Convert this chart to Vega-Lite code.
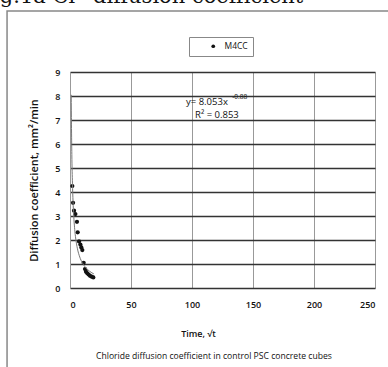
{
  "$schema": "https://vega.github.io/schema/vega-lite/v6.json",
  "width": 305,
  "height": 216,
  "autosize": "none",
  "padding": {"left": 70, "top": 72, "right": 13, "bottom": 79},
  "background": "white",
  "datasets": {
    "obs": [
      {"t": 1.9, "d": 4.25, "series": "M4CC"},
      {"t": 2.5, "d": 3.55, "series": "M4CC"},
      {"t": 3.3, "d": 3.22, "series": "M4CC"},
      {"t": 4.4, "d": 3.08, "series": "M4CC"},
      {"t": 5.7, "d": 2.76, "series": "M4CC"},
      {"t": 6.3, "d": 2.32, "series": "M4CC"},
      {"t": 7.4, "d": 1.94, "series": "M4CC"},
      {"t": 8.5, "d": 1.81, "series": "M4CC"},
      {"t": 9.3, "d": 1.69, "series": "M4CC"},
      {"t": 10.1, "d": 1.58, "series": "M4CC"},
      {"t": 11.2, "d": 1.05, "series": "M4CC"},
      {"t": 12.3, "d": 0.79, "series": "M4CC"},
      {"t": 13.1, "d": 0.68, "series": "M4CC"},
      {"t": 14.2, "d": 0.61, "series": "M4CC"},
      {"t": 15.3, "d": 0.56, "series": "M4CC"},
      {"t": 16.4, "d": 0.51, "series": "M4CC"},
      {"t": 17.8, "d": 0.47, "series": "M4CC"},
      {"t": 19.1, "d": 0.44, "series": "M4CC"}
    ],
    "trend": [
      {"t": 1.0, "d": 8.05},
      {"t": 1.2, "d": 6.83},
      {"t": 1.5, "d": 5.56},
      {"t": 2.0, "d": 4.37},
      {"t": 2.5, "d": 3.60},
      {"t": 3.0, "d": 3.06},
      {"t": 4.0, "d": 2.37},
      {"t": 5.0, "d": 1.95},
      {"t": 6.0, "d": 1.66},
      {"t": 8.0, "d": 1.29},
      {"t": 10.0, "d": 1.06},
      {"t": 12.0, "d": 0.905},
      {"t": 14.0, "d": 0.79},
      {"t": 16.0, "d": 0.70},
      {"t": 18.0, "d": 0.63},
      {"t": 19.5, "d": 0.59}
    ],
    "one": [{}]
  },
  "config": {
    "view": {"stroke": null},
    "axis": {
      "labelFont": "Open Sans",
      "titleFont": "Open Sans",
      "labelFontWeight": 600,
      "labelFontSize": 9,
      "labelColor": "#111",
      "titleColor": "#111",
      "titleFontSize": 9,
      "titleFontWeight": 600,
      "ticks": false,
      "labelOverlap": false
    },
    "axisY": {"titleFontSize": 11}
  },
  "layer": [
    {
      "data": {"name": "obs"},
      "mark": {"type": "point", "filled": true, "size": 18, "opacity": 1},
      "encoding": {
        "x": {
          "field": "t", "type": "quantitative",
          "scale": {"domain": [0, 250], "nice": false},
          "axis": {"values": [0, 50, 100, 150, 200, 250], "title": "Time, √t", "titleX": 128, "titlePadding": 20, "labelPadding": 12, "grid": true, "gridColor": "#999", "gridWidth": 1, "domain": false}
        },
        "y": {
          "field": "d", "type": "quantitative",
          "scale": {"domain": [0, 9], "nice": false},
          "axis": {"values": [0, 1, 2, 3, 4, 5, 6, 7, 8, 9], "title": "Diffusion coefficient, mm²/min", "titlePadding": 15, "labelPadding": 10, "grid": true, "gridColor": "#333", "gridWidth": 1.4, "domainColor": "#999"}
        },
        "color": {
          "field": "series", "type": "nominal",
          "scale": {"range": ["#111"]},
          "legend": {
            "title": null,
            "orient": "none",
            "legendX": 119,
            "legendY": -35,
            "strokeColor": "#888",
            "padding": 5,
            "symbolType": "circle",
            "symbolSize": 14,
            "symbolOffset": 15,
            "labelOffset": 7,
            "labelFont": "Open Sans",
            "labelFontSize": 8.5,
            "labelColor": "#111",
            "fillColor": "white"
          }
        }
      }
    },
    {
      "data": {"name": "trend"},
      "mark": {"type": "line", "color": "#777", "strokeWidth": 1, "interpolate": "monotone"},
      "encoding": {
        "x": {"field": "t", "type": "quantitative", "scale": {"domain": [0, 250], "nice": false},
          "axis": {"values": [0, 50, 100, 150, 200, 250], "title": "Time, √t", "titleX": 128, "titlePadding": 20, "labelPadding": 12, "grid": true, "gridColor": "#999", "gridWidth": 1, "domain": false}},
        "y": {"field": "d", "type": "quantitative", "scale": {"domain": [0, 9], "nice": false},
          "axis": {"values": [0, 1, 2, 3, 4, 5, 6, 7, 8, 9], "title": "Diffusion coefficient, mm²/min", "titlePadding": 15, "labelPadding": 10, "grid": true, "gridColor": "#333", "gridWidth": 1.4, "domainColor": "#999"}}
      }
    },
    {
      "data": {"name": "one"},
      "mark": {"type": "rect", "fill": null, "stroke": "#888", "strokeWidth": 1.5, "clip": false},
      "encoding": {
        "x": {"datum": -51.6, "type": "quantitative", "scale": {"domain": [0, 250], "nice": false},
          "axis": {"values": [0, 50, 100, 150, 200, 250], "title": "Time, √t", "titleX": 128, "titlePadding": 20, "labelPadding": 12, "grid": true, "gridColor": "#999", "gridWidth": 1, "domain": false}},
        "x2": {"datum": 275},
        "y": {"datum": 11.54, "type": "quantitative", "scale": {"domain": [0, 9], "nice": false},
          "axis": {"values": [0, 1, 2, 3, 4, 5, 6, 7, 8, 9], "title": "Diffusion coefficient, mm²/min", "titlePadding": 15, "labelPadding": 10, "grid": true, "gridColor": "#333", "gridWidth": 1.4, "domainColor": "#999"}},
        "y2": {"datum": -3.6}
      }
    },
    {
      "data": {"name": "one"},
      "mark": {"type": "text", "font": "DejaVu Serif", "fontSize": 21, "align": "left", "baseline": "alphabetic", "color": "#111", "clip": false},
      "encoding": {
        "x": {"datum": -75, "type": "quantitative", "scale": {"domain": [0, 250], "nice": false},
          "axis": {"values": [0, 50, 100, 150, 200, 250], "title": "Time, √t", "titleX": 128, "titlePadding": 20, "labelPadding": 12, "grid": true, "gridColor": "#999", "gridWidth": 1, "domain": false}},
        "y": {"datum": 11.86, "type": "quantitative", "scale": {"domain": [0, 9], "nice": false},
          "axis": {"values": [0, 1, 2, 3, 4, 5, 6, 7, 8, 9], "title": "Diffusion coefficient, mm²/min", "titlePadding": 15, "labelPadding": 10, "grid": true, "gridColor": "#333", "gridWidth": 1.4, "domainColor": "#999"}},
        "text": {"value": "Fig.1a Cl⁻ diffusion coefficient"}
      }
    },
    {
      "data": {"name": "one"},
      "mark": {"type": "text", "font": "Open Sans", "fontSize": 8.6, "align": "center", "baseline": "middle", "color": "#111", "clip": false},
      "encoding": {
        "x": {"datum": 118, "type": "quantitative", "scale": {"domain": [0, 250], "nice": false},
          "axis": {"values": [0, 50, 100, 150, 200, 250], "title": "Time, √t", "titleX": 128, "titlePadding": 20, "labelPadding": 12, "grid": true, "gridColor": "#999", "gridWidth": 1, "domain": false}},
        "y": {"datum": -2.83, "type": "quantitative", "scale": {"domain": [0, 9], "nice": false},
          "axis": {"values": [0, 1, 2, 3, 4, 5, 6, 7, 8, 9], "title": "Diffusion coefficient, mm²/min", "titlePadding": 15, "labelPadding": 10, "grid": true, "gridColor": "#333", "gridWidth": 1.4, "domainColor": "#999"}},
        "text": {"value": "Chloride diffusion coefficient in control PSC concrete cubes"}
      }
    },
    {
      "data": {"name": "one"},
      "mark": {"type": "text", "font": "Open Sans", "fontSize": 9.5, "align": "left", "baseline": "middle", "color": "#111"},
      "encoding": {
        "x": {"datum": 95.1, "type": "quantitative", "scale": {"domain": [0, 250], "nice": false},
          "axis": {"values": [0, 50, 100, 150, 200, 250], "title": "Time, √t", "titleX": 128, "titlePadding": 20, "labelPadding": 12, "grid": true, "gridColor": "#999", "gridWidth": 1, "domain": false}},
        "y": {"datum": 7.76, "type": "quantitative", "scale": {"domain": [0, 9], "nice": false},
          "axis": {"values": [0, 1, 2, 3, 4, 5, 6, 7, 8, 9], "title": "Diffusion coefficient, mm²/min", "titlePadding": 15, "labelPadding": 10, "grid": true, "gridColor": "#333", "gridWidth": 1.4, "domainColor": "#999"}},
        "text": {"value": "y= 8.053x"}
      }
    },
    {
      "data": {"name": "one"},
      "mark": {"type": "text", "font": "Open Sans", "fontSize": 6.5, "align": "left", "baseline": "middle", "color": "#111"},
      "encoding": {
        "x": {"datum": 133, "type": "quantitative", "scale": {"domain": [0, 250], "nice": false},
          "axis": {"values": [0, 50, 100, 150, 200, 250], "title": "Time, √t", "titleX": 128, "titlePadding": 20, "labelPadding": 12, "grid": true, "gridColor": "#999", "gridWidth": 1, "domain": false}},
        "y": {"datum": 7.95, "type": "quantitative", "scale": {"domain": [0, 9], "nice": false},
          "axis": {"values": [0, 1, 2, 3, 4, 5, 6, 7, 8, 9], "title": "Diffusion coefficient, mm²/min", "titlePadding": 15, "labelPadding": 10, "grid": true, "gridColor": "#333", "gridWidth": 1.4, "domainColor": "#999"}},
        "text": {"value": "-0.88"}
      }
    },
    {
      "data": {"name": "one"},
      "mark": {"type": "text", "font": "Open Sans", "fontSize": 9.5, "align": "left", "baseline": "middle", "color": "#111"},
      "encoding": {
        "x": {"datum": 102.5, "type": "quantitative", "scale": {"domain": [0, 250], "nice": false},
          "axis": {"values": [0, 50, 100, 150, 200, 250], "title": "Time, √t", "titleX": 128, "titlePadding": 20, "labelPadding": 12, "grid": true, "gridColor": "#999", "gridWidth": 1, "domain": false}},
        "y": {"datum": 7.21, "type": "quantitative", "scale": {"domain": [0, 9], "nice": false},
          "axis": {"values": [0, 1, 2, 3, 4, 5, 6, 7, 8, 9], "title": "Diffusion coefficient, mm²/min", "titlePadding": 15, "labelPadding": 10, "grid": true, "gridColor": "#333", "gridWidth": 1.4, "domainColor": "#999"}},
        "text": {"value": "R² = 0.853"}
      }
    }
  ]
}
